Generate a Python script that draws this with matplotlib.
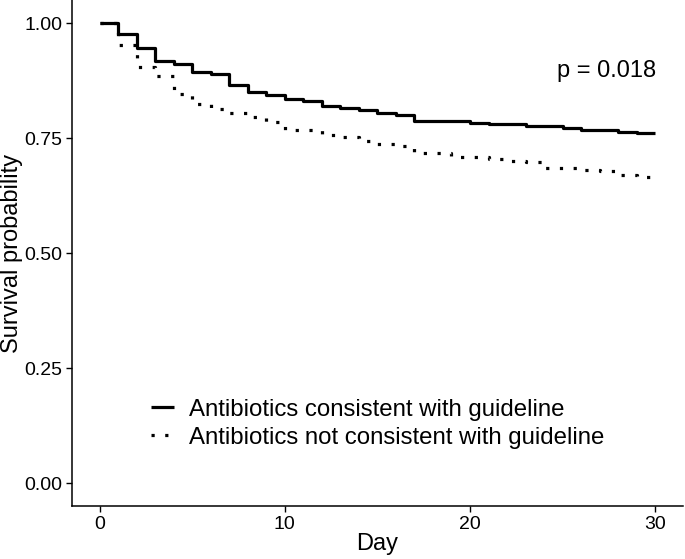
import matplotlib.pyplot as plt

plt.rcParams["font.family"] = ["Liberation Sans", "DejaVu Sans"]

# Kaplan-Meier steps
days_cons = [0, 1, 2, 3, 4, 5, 6, 7, 8, 9, 10, 11, 12, 13, 14, 15, 16, 17,
             20, 21, 23, 25, 26, 28, 29, 30]
surv_cons = [1.000, 0.976, 0.945, 0.917, 0.910, 0.894, 0.890, 0.865, 0.851,
             0.843, 0.834, 0.830, 0.820, 0.815, 0.811, 0.804, 0.799, 0.788,
             0.783, 0.780, 0.776, 0.772, 0.767, 0.764, 0.760, 0.760]

days_not = [0, 1, 2, 3, 4, 5, 6, 7, 8, 9, 10, 12, 13, 14, 15, 16, 17, 19,
            21, 22, 23, 24, 26, 27, 28, 29, 30]
surv_not = [1.000, 0.952, 0.905, 0.885, 0.846, 0.823, 0.812, 0.804, 0.795,
            0.784, 0.767, 0.757, 0.753, 0.744, 0.737, 0.733, 0.718, 0.709,
            0.705, 0.701, 0.697, 0.685, 0.681, 0.678, 0.670, 0.665, 0.665]

labels = ["Antibiotics consistent with guideline",
          "Antibiotics not consistent with guideline"]
p_text = "p = 0.018"

fig = plt.figure(figsize=(6.85, 5.59), dpi=100)
ax = fig.add_axes([0.105, 0.0948, 0.892, 0.9052])

ax.plot(days_cons, surv_cons, drawstyle="steps-post", color="black",
        lw=2.3, label=labels[0], solid_capstyle="butt")
ax.plot(days_not, surv_not, drawstyle="steps-post", color="black",
        lw=2.3, linestyle=(0, (1, 3.3)), label=labels[1],
        dash_capstyle="butt")

ax.set_xlim(-1.5, 31.5)
ax.set_ylim(-0.05, 1.05)
ax.set_xticks([0, 10, 20, 30])
ax.set_yticks([0, 0.25, 0.5, 0.75, 1.0])
ax.set_yticklabels(["0.00", "0.25", "0.50", "0.75", "1.00"])
ax.tick_params(labelsize=14, length=4, width=1, colors="black", pad=3)
for s in ["top", "right"]:
    ax.spines[s].set_visible(False)
for s in ["left", "bottom"]:
    ax.spines[s].set_linewidth(1.1)

ax.set_xlabel("Day", fontsize=17, labelpad=0)
ax.set_ylabel("Survival probability", fontsize=17, labelpad=1)

ax.text(27.4, 0.895, p_text, fontsize=17, ha="center", va="center")

ax.legend(loc="upper left", bbox_to_anchor=(0.13, 0.212), frameon=False,
          fontsize=17.3, handlelength=0.95, handletextpad=0.62,
          labelspacing=0.25, borderpad=0, borderaxespad=0)

fig.savefig("out.png", dpi=100)
